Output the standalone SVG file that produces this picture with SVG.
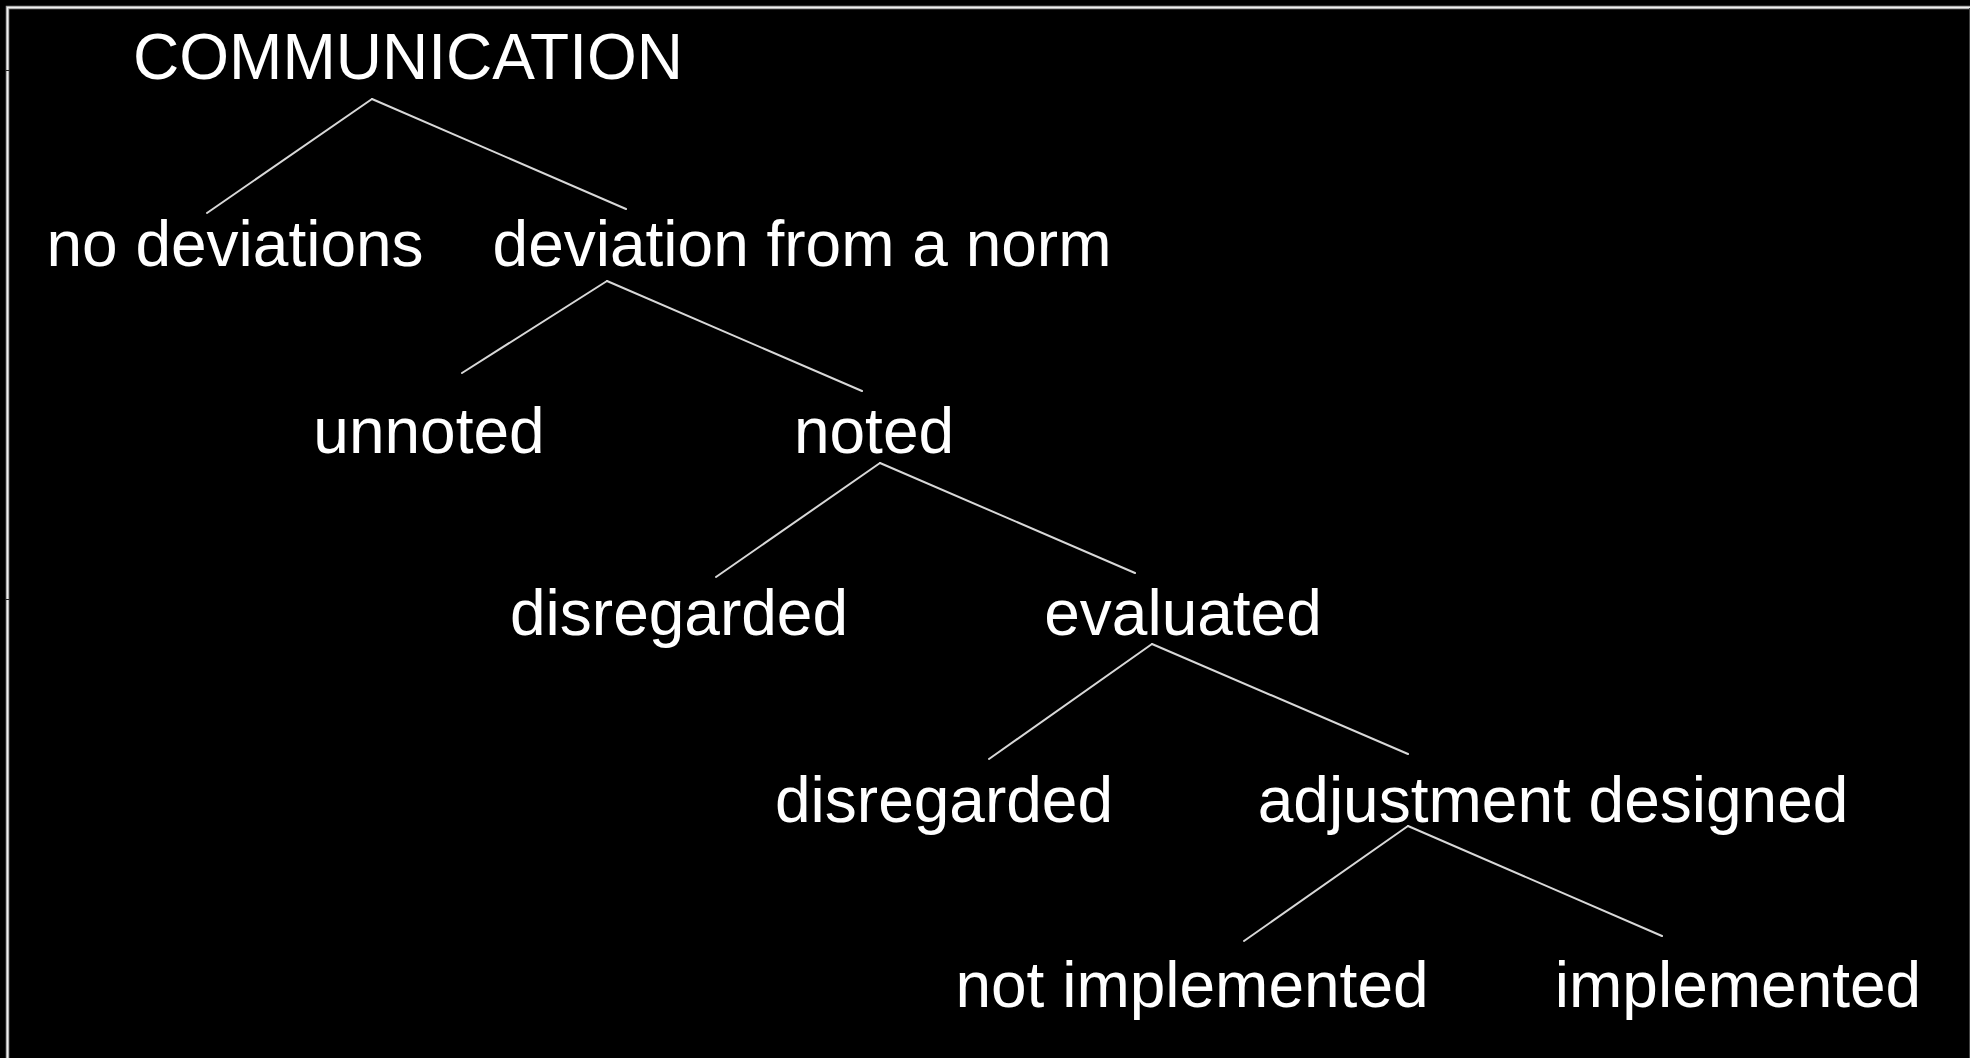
<svg xmlns="http://www.w3.org/2000/svg" width="1970" height="1058" viewBox="0 0 1970 1058">
<style>
.t{font-family:"Liberation Sans",Arial,Helvetica,sans-serif;font-size:64px;fill:#ffffff;text-anchor:middle}
.c line{stroke:#d8d8d8;stroke-width:2;stroke-linecap:round}
</style>
<rect x="0" y="0" width="1970" height="1058" fill="#000"/>
<g id="frame" fill="none">
<path d="M7.5 1058 V7.5 H1970" stroke="#9a9a9a" stroke-width="3.5"/>
<path d="M7.5 1058 V7.5 H1970" stroke="#f0f0f0" stroke-width="1.5"/>
<line x1="1969.5" y1="8" x2="1969.5" y2="1058" stroke="#444" stroke-width="1"/>
<line x1="5" y1="70.5" x2="10" y2="70.5" stroke="#222" stroke-width="1"/>
<line x1="5" y1="599.5" x2="10" y2="599.5" stroke="#222" stroke-width="1"/>
</g>
<g id="connectors" class="c">
<line x1="372" y1="99" x2="207" y2="213"/>
<line x1="372" y1="99" x2="626" y2="209"/>
<line x1="607" y1="281" x2="462" y2="373"/>
<line x1="607" y1="281" x2="862" y2="391"/>
<line x1="880" y1="463" x2="716" y2="577"/>
<line x1="880" y1="463" x2="1135" y2="573"/>
<line x1="1152" y1="644" x2="989" y2="759"/>
<line x1="1152" y1="644" x2="1408" y2="754"/>
<line x1="1408" y1="826" x2="1244" y2="941"/>
<line x1="1408" y1="826" x2="1662" y2="936"/>
</g>
<g id="n-communication"><text class="t" x="408" y="79">COMMUNICATION</text></g>
<g id="n-no-deviations"><text class="t" x="235" y="266">no deviations</text></g>
<g id="n-deviation"><text class="t" x="802" y="266">deviation from a norm</text></g>
<g id="n-unnoted"><text class="t" x="429" y="453">unnoted</text></g>
<g id="n-noted"><text class="t" x="874" y="453">noted</text></g>
<g id="n-disregarded1"><text class="t" x="679" y="635">disregarded</text></g>
<g id="n-evaluated"><text class="t" x="1183" y="635">evaluated</text></g>
<g id="n-disregarded2"><text class="t" x="944" y="822">disregarded</text></g>
<g id="n-adjustment"><text class="t" x="1553" y="822">adjustment designed</text></g>
<g id="n-not-implemented"><text class="t" x="1192" y="1007">not implemented</text></g>
<g id="n-implemented"><text class="t" x="1738" y="1007">implemented</text></g>
</svg>
